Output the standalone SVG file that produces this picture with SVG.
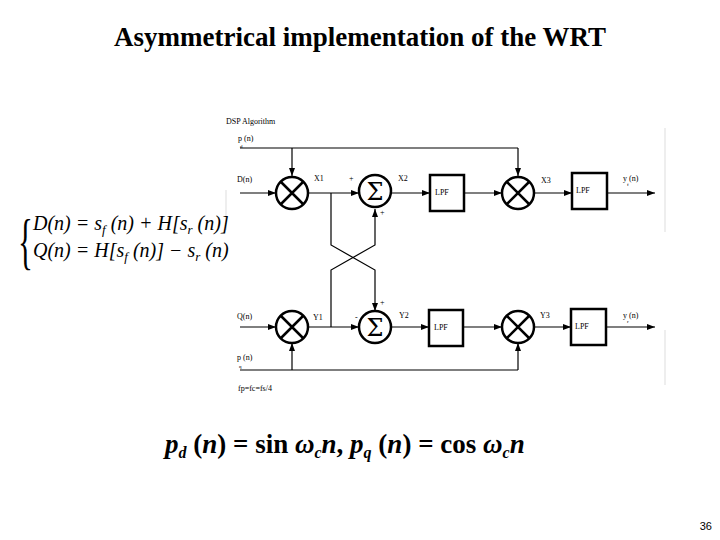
<svg xmlns="http://www.w3.org/2000/svg" width="720" height="540" viewBox="0 0 720 540">
<defs><marker id="a" markerWidth="8" markerHeight="6" refX="8" refY="3" orient="auto" markerUnits="userSpaceOnUse"><path d="M0,0L8,3L0,6z" fill="#000"/></marker>
<style>.l{stroke:#000;stroke-width:1.2;fill:none}.c{stroke:#000;stroke-width:2.5;fill:#fff}.b{stroke:#000;stroke-width:2.5;fill:#fff}.t{font-family:"Liberation Serif",serif;font-size:8px}.m{font-family:"Liberation Serif",serif;font-style:italic;font-size:20px}.s{font-family:"Liberation Serif",serif}.sg{font-family:"DejaVu Serif",serif;font-size:24px}</style></defs>
<rect width="720" height="540" fill="#fff"/>
<text class="s" x="360" y="46" text-anchor="middle" font-size="27" font-weight="bold">Asymmetrical implementation of the WRT</text>
<line x1="665" y1="128" x2="665" y2="232" stroke="#ddd"/><line x1="665" y1="330" x2="665" y2="385" stroke="#ddd"/>
<line x1="226" y1="190" x2="226" y2="230" stroke="#ddd"/>
<g id="connectors" class="l">
<path d="M240,148H518"/><path d="M292,148V176" marker-end="url(#a)"/><path d="M518,148V176" marker-end="url(#a)"/>
<path d="M240,193H276" marker-end="url(#a)"/><path d="M308,193H359" marker-end="url(#a)"/><path d="M391,193H430" marker-end="url(#a)"/><path d="M464,193H502" marker-end="url(#a)"/><path d="M534,193H572" marker-end="url(#a)"/><path d="M607,193H655" marker-end="url(#a)"/>
<path d="M331,193V245L375,270V311" marker-end="url(#a)"/><path d="M331,327V270L375,245V209" marker-end="url(#a)"/>
<path d="M240,327H276" marker-end="url(#a)"/><path d="M308,327H359" marker-end="url(#a)"/><path d="M391,327H429" marker-end="url(#a)"/><path d="M463,327H502" marker-end="url(#a)"/><path d="M534,327H571" marker-end="url(#a)"/><path d="M606,327H655" marker-end="url(#a)"/>
<path d="M240,370H518"/><path d="M292,370V343" marker-end="url(#a)"/><path d="M518,370V343" marker-end="url(#a)"/>
</g>
<g id="m1"><circle class="c" cx="292" cy="193" r="16"/><path class="c" d="M281,182L303,204M303,182L281,204"/></g>
<g id="s1"><circle class="c" cx="375" cy="191" r="16"/><text class="sg" x="375" y="200" text-anchor="middle">Σ</text></g>
<g id="lpf1"><rect class="b" x="430" y="175" width="34" height="36"/><text class="t" x="435" y="195">LPF</text></g>
<g id="m2"><circle class="c" cx="518" cy="193" r="16"/><path class="c" d="M507,182L529,204M529,182L507,204"/></g>
<g id="lpf2"><rect class="b" x="572" y="173" width="35" height="36"/><text class="t" x="576" y="193">LPF</text></g>
<g id="m3"><circle class="c" cx="292" cy="327" r="16"/><path class="c" d="M281,316L303,338M303,316L281,338"/></g>
<g id="s2"><circle class="c" cx="375" cy="327" r="16"/><text class="sg" x="375" y="336" text-anchor="middle">Σ</text></g>
<g id="lpf3"><rect class="b" x="429" y="310" width="34" height="36"/><text class="t" x="434" y="330">LPF</text></g>
<g id="m4"><circle class="c" cx="518" cy="327" r="16"/><path class="c" d="M507,316L529,338M529,316L507,338"/></g>
<g id="lpf4"><rect class="b" x="571" y="309" width="35" height="36"/><text class="t" x="575" y="329">LPF</text></g>
<g class="t">
<text x="226" y="124">DSP Algorithm</text><text x="238" y="141">p (n)</text><text x="240" y="148" font-size="5">d</text>
<text x="237" y="182">D(n)</text><text x="314" y="181">X1</text><text x="349" y="181">+</text><text x="398" y="181">X2</text><text x="380" y="215">+</text><text x="541" y="183">X3</text>
<text x="623" y="181">y (n)</text><text x="627" y="186" font-size="5">f</text>
<text x="380" y="305">+</text><text x="237" y="319">Q(n)</text><text x="313" y="320">Y1</text><text x="355" y="320">-</text><text x="399" y="318">Y2</text><text x="540" y="318">Y3</text>
<text x="623" y="318">y (n)</text><text x="627" y="323" font-size="5">r</text>
<text x="237" y="360">p (n)</text><text x="239" y="368" font-size="5">q</text><text x="238" y="391">fp=fc=fs/4</text>
</g>
<text class="s" x="18" y="262" font-size="62" transform="translate(18,0) scale(0.5,1) translate(-18,0)">{</text>
<text class="m" x="33" y="230">D(n) = s<tspan font-size="13" dy="4">f</tspan><tspan dy="-4"> (n) + H[s</tspan><tspan font-size="13" dy="4">r</tspan><tspan dy="-4"> (n)]</tspan></text>
<text class="m" x="33" y="257">Q(n) = H[s<tspan font-size="13" dy="4">f</tspan><tspan dy="-4"> (n)] − s</tspan><tspan font-size="13" dy="4">r</tspan><tspan dy="-4"> (n)</tspan></text>
<text class="s" x="165" y="453" font-weight="bold" font-size="27"><tspan font-style="italic">p</tspan><tspan font-size="16" dy="5" font-style="italic">d</tspan><tspan dy="-5"> (</tspan><tspan font-style="italic">n</tspan>) = sin <tspan font-style="italic">ω</tspan><tspan font-size="16" dy="5" font-style="italic">c</tspan><tspan dy="-5" font-style="italic">n</tspan>,  <tspan font-style="italic">p</tspan><tspan font-size="16" dy="5" font-style="italic">q</tspan><tspan dy="-5"> (</tspan><tspan font-style="italic">n</tspan>) = cos <tspan font-style="italic">ω</tspan><tspan font-size="16" dy="5" font-style="italic">c</tspan><tspan dy="-5" font-style="italic">n</tspan></text>
<text x="712" y="530" text-anchor="end" font-family="'Liberation Sans',sans-serif" font-size="11">36</text>
</svg>
